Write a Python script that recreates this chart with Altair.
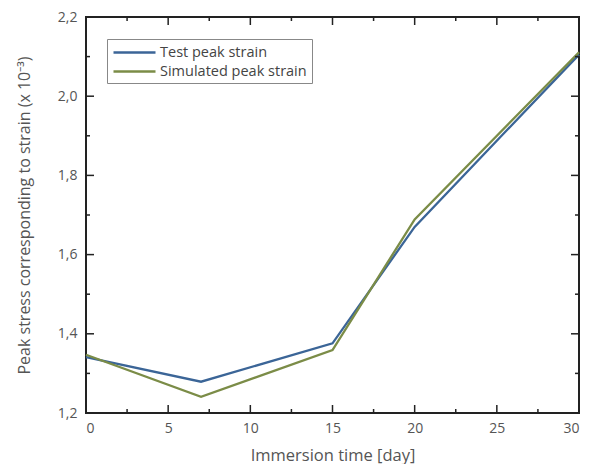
import altair as alt
import pandas as pd

# Peak strain vs. immersion time
days = [0, 7, 15, 20, 30]
test_strain = [1.341, 1.279, 1.376, 1.670, 2.105]
sim_strain = [1.347, 1.241, 1.359, 1.689, 2.111]
series_names = ["Test peak strain", "Simulated peak strain"]
series_colors = ["#3b6597", "#7b8c47"]

x_major = [0, 5, 10, 15, 20, 25, 30]
x_minor = [2.5, 7.5, 12.5, 17.5, 22.5, 27.5]
y_major = [1.2, 1.4, 1.6, 1.8, 2.0, 2.2]
y_minor = [1.3, 1.5, 1.7, 1.9, 2.1]

W, H = 493, 396
FONT = "Open Sans"
TEXT = "#555555"
FRAME = "#222222"
MAJOR_LEN, MINOR_LEN = 16, 8   # doubled: half of each tick is clipped away

df = pd.concat([
    pd.DataFrame({"day": days, "strain": test_strain, "series": series_names[0]}),
    pd.DataFrame({"day": days, "strain": sim_strain, "series": series_names[1]}),
])
x_tick_df = pd.DataFrame({"pos": x_major + x_minor,
                          "len": [MAJOR_LEN] * len(x_major) + [MINOR_LEN] * len(x_minor)})
y_tick_df = pd.DataFrame({"pos": y_major + y_minor,
                          "len": [MAJOR_LEN] * len(y_major) + [MINOR_LEN] * len(y_minor)})

x_scale = alt.Scale(domain=[0, 30], nice=False, zero=False)
y_scale = alt.Scale(domain=[1.2, 2.2], nice=False, zero=False)

# data lines, with the labelled axes
lines = alt.Chart(df).mark_line(strokeWidth=2.3).encode(
    x=alt.X("day:Q", scale=x_scale, axis=alt.Axis(
        orient="bottom", values=x_major, ticks=False, domain=False, grid=False,
        title="Immersion time [day]", labelPadding=8, titlePadding=12,
        titleFontSize=16.5, format="d")),
    y=alt.Y("strain:Q", scale=y_scale, axis=alt.Axis(
        orient="left", values=y_major, ticks=False, domain=False, grid=False,
        title="Peak stress corresponding to strain (x 10⁻³)",
        labelExpr="replace(format(datum.value, '.1f'), '.', ',')",
        labelPadding=9, titlePadding=25, titleFontSize=16)),
    color=alt.Color("series:N", scale=alt.Scale(domain=series_names, range=series_colors),
                    legend=alt.Legend(title=None, orient="none", legendX=21, legendY=22)),
)


def x_edge_ticks(edge_value):
    # vertical ticks centred on a horizontal edge; clipping keeps the inner half
    return alt.Chart(x_tick_df).mark_tick(
        orient="vertical", thickness=1.5, color=FRAME, clip=True, opacity=1
    ).encode(
        x=alt.X("pos:Q", scale=x_scale, axis=None),
        y=alt.YDatum(edge_value, scale=y_scale, axis=None),
        size=alt.Size("len:Q", scale=None, legend=None),
    )


def y_edge_ticks(edge_value):
    # horizontal ticks centred on a vertical edge
    return alt.Chart(y_tick_df).mark_tick(
        orient="horizontal", thickness=1.5, color=FRAME, clip=True, opacity=1
    ).encode(
        y=alt.Y("pos:Q", scale=y_scale, axis=None),
        x=alt.XDatum(edge_value, scale=x_scale, axis=None),
        size=alt.Size("len:Q", scale=None, legend=None),
    )


chart = alt.layer(
    lines,
    x_edge_ticks(1.2), x_edge_ticks(2.2),
    y_edge_ticks(0), y_edge_ticks(30),
).resolve_axis(
    x="independent", y="independent"
).properties(
    width=W, height=H,
    autosize=alt.AutoSizeParams(type="none"),
    padding={"left": 86, "top": 17, "right": 14, "bottom": 51},
).configure_view(
    stroke=FRAME, strokeWidth=2
).configure_axis(
    labelFont=FONT, labelFontSize=14, labelColor=TEXT,
    titleFont=FONT, titleColor=TEXT, titleFontWeight="normal",
).configure_legend(
    labelFont=FONT, labelFontSize=14.5, labelColor="#444444",
    symbolType="M-1,0H5", symbolSize=196, symbolStrokeWidth=2.5,
    symbolFillColor="transparent",
    strokeColor="#888888", padding=5, labelOffset=31, rowPadding=4,
    cornerRadius=0,
)

chart.save("out.html", embed_options={"renderer": "svg", "actions": False})
